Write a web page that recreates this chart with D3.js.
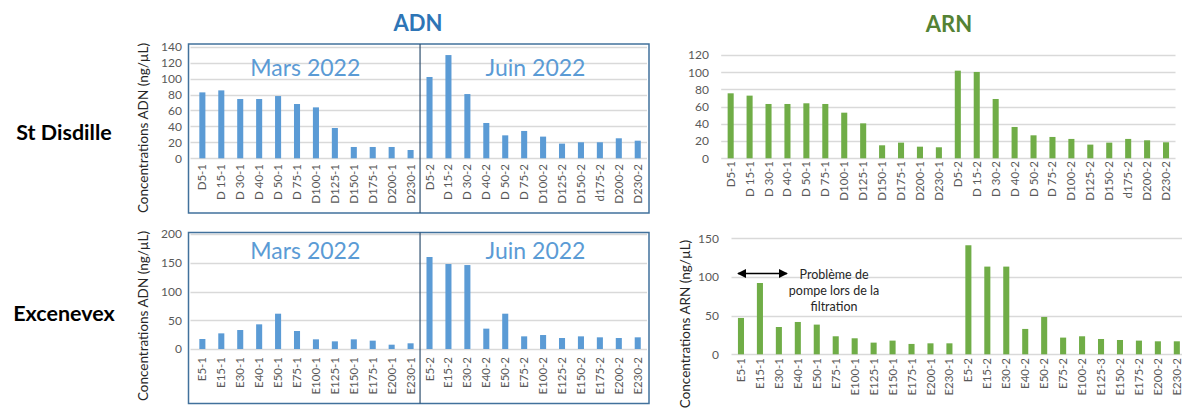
<!DOCTYPE html>
<html>
<head>
<meta charset="utf-8">
<script src="https://cdn.jsdelivr.net/npm/d3@7"></script>
<style>
  body { margin: 0; background: #fff; }
  svg { font-family: Lato, "Open Sans", sans-serif; }
</style>
</head>
<body>
<svg id="chart" width="1182" height="412"></svg>
<script>
// DATA
const labelsD = ["D5-1", "D 15-1", "D 30-1", "D 40-1", "D 50-1", "D 75-1", "D100-1", "D125-1", "D150-1", "D175-1", "D200-1", "D230-1",
                 "D5-2", "D 15-2", "D 30-2", "D 40-2", "D 50-2", "D 75-2", "D100-2", "D125-2", "D150-2", "d175-2", "D200-2", "D230-2"];
const labelsE = ["E5-1", "E15-1", "E30-1", "E40-1", "E50-1", "E75-1", "E100-1", "E125-1", "E150-1", "E175-1", "E200-1", "E230-1",
                 "E5-2", "E15-2", "E30-2", "E40-2", "E50-2", "E75-2", "E100-2", "E125-2", "E150-2", "E175-2", "E200-2", "E230-2"];
const labelsEArn = ["E5-1", "E15-1", "E30-1", "E40-1", "E50-1", "E75-1", "E100-1", "E125-1", "E150-1", "E175-1", "E200-1", "E230-1",
                    "E5-2", "E15-2", "E30-2", "E40-2", "E50-2", "E75-2", "E100-2", "E125-3", "E150-2", "E175-2", "E200-2", "E230-2"];

const adnStDisdille = [82.7, 85.2, 74.4, 74.4, 78.1, 68.1, 63.9, 38, 14.2, 14.2, 14.2, 10.4,
                       102, 129.5, 80.6, 44.3, 28.8, 34.3, 27.2, 18.4, 20.1, 20.1, 25.1, 22.1];
const arnStDisdille = [75.5, 72.8, 63.1, 63.1, 63.9, 63.1, 53, 40.6, 15.1, 18.2, 13.5, 12.8,
                       101.8, 100.3, 68.9, 36.4, 26.7, 24.8, 22.5, 15.9, 18.2, 22.5, 20.9, 18.6];
const adnExcenevex = [17.4, 27.2, 33, 42.9, 61.4, 31.3, 16.8, 13.3, 16.8, 14.5, 7.5, 9.9,
                      160, 147.8, 146, 35.4, 61.4, 22, 24.3, 19.1, 22, 20.3, 19.1, 20.3];
const arnExcenevex = [47, 92.2, 35.3, 41.8, 38.4, 23.3, 20.7, 15.1, 17.7, 13.4, 14.2, 14.2,
                      141, 113.4, 113.4, 32.8, 48.3, 21.6, 23.3, 19.8, 18.5, 17.7, 16.8, 16.8];

const sites = ["St Disdille", "Excenevex"];
const campaigns = ["Mars 2022", "Juin 2022"];
const noteLines = ["Problème de", "pompe lors de la", "filtration"];

// COLOURS
const blue = "#5b9bd5";
const green = "#70ad47";
const gridColor = "#d9d9d9";
const tickColor = "#595959";

const svg = d3.select("#chart");

// PANELS
const panels = [
  { labels: labelsD, values: adnStDisdille, color: blue, x: [192.9, 647.2], y: [158.3, 46.7], max: 140, step: 20,
    tickRight: 182, labelTop: 164, box: [188.5, 44, 649, 213], title: "Concentrations ADN (ng/µL)", titleX: 148, titleY: 128,
    campaignY: 76 },
  { labels: labelsD, values: arnStDisdille, color: green, x: [721.2, 1175.5], y: [158.3, 55], max: 120, step: 20,
    tickRight: 709, labelTop: 161 },
  { labels: labelsE, values: adnExcenevex, color: blue, x: [192.9, 647.2], y: [349, 234], max: 200, step: 50,
    tickRight: 182, labelTop: 357, box: [188.5, 232.5, 649, 403.5], title: "Concentrations ADN (ng/µL)", titleX: 148, titleY: 316,
    campaignY: 259 },
  { labels: labelsEArn, values: arnExcenevex, color: green, x: [731.5, 1186.3], y: [354.3, 238.3], max: 150, step: 50,
    tickRight: 719, labelTop: 358, title: "Concentrations ARN (ng/µL)", titleX: 690, titleY: 324 }
];

panels.forEach(p => {
  const g = svg.append("g");
  const x = d3.scaleBand().domain(p.labels).range(p.x).paddingInner(0.68).paddingOuter(0.34);
  const y = d3.scaleLinear().domain([0, p.max]).range(p.y);
  const ticks = d3.range(0, p.max + 1, p.step);

  // gridlines
  const gridLeft = p.box ? p.box[0] + 2 : p.x[0];
  const gridRight = p.box ? p.box[2] - 2 : p.x[1];
  g.selectAll("line.grid")
    .data(ticks)
    .enter()
    .append("line")
    .attr("class", "grid")
    .attr("x1", gridLeft)
    .attr("x2", gridRight)
    .attr("y1", d => Math.round(y(d)) + 0.5)
    .attr("y2", d => Math.round(y(d)) + 0.5)
    .attr("stroke", gridColor)
    .attr("stroke-width", 1.3);

  // y axis labels
  const yAxis = d3.axisLeft(y).tickValues(ticks).tickSize(0).tickPadding(0);
  const ya = g.append("g").attr("transform", `translate(${p.tickRight},0)`).call(yAxis);
  ya.select(".domain").remove();
  ya.selectAll("text").attr("fill", tickColor).attr("font-size", 12).attr("font-family", "Lato, sans-serif");

  // bars
  g.selectAll("rect.bar")
    .data(p.values)
    .enter()
    .append("rect")
    .attr("class", "bar")
    .attr("x", (d, i) => x(p.labels[i]))
    .attr("width", x.bandwidth())
    .attr("y", d => y(d))
    .attr("height", d => y(0) - y(d))
    .attr("fill", p.color);

  // x axis labels (rotated)
  const xAxis = d3.axisBottom(x).tickSize(0).tickPadding(0);
  const xa = g.append("g").attr("transform", `translate(0,${p.labelTop})`).call(xAxis);
  xa.select(".domain").remove();
  xa.selectAll("text")
    .attr("transform", "rotate(-90)")
    .attr("text-anchor", "end")
    .attr("x", 0)
    .attr("y", 0)
    .attr("dy", "0.35em")
    .attr("fill", tickColor)
    .attr("font-size", 11.5)
    .attr("font-family", "Lato, sans-serif");

  // frame + campaign divider
  if (p.box) {
    const [bx0, by0, bx1, by1] = p.box;
    g.append("rect")
      .attr("x", bx0).attr("y", by0)
      .attr("width", bx1 - bx0).attr("height", by1 - by0)
      .attr("fill", "none")
      .attr("stroke", "#41719c")
      .attr("stroke-width", 1.5);
    const mid = (x(p.labels[11]) + x(p.labels[12]) + x.bandwidth()) / 2;
    g.append("line")
      .attr("x1", mid).attr("x2", mid)
      .attr("y1", by0).attr("y2", by1)
      .attr("stroke", "#2f4f6f")
      .attr("stroke-width", 1.2);
    g.selectAll("text.campaign")
      .data(campaigns)
      .enter()
      .append("text")
      .attr("class", "campaign")
      .attr("x", (d, i) => i === 0 ? (bx0 + mid) / 2 + 1 : (mid + bx1) / 2 + 1)
      .attr("y", p.campaignY)
      .attr("text-anchor", "middle")
      .attr("font-size", 23)
      .attr("fill", blue)
      .text(d => d);
  }

  if (p.title) {
    g.append("text")
      .attr("transform", `translate(${p.titleX},${p.titleY}) rotate(-90)`)
      .attr("text-anchor", "middle")
      .attr("font-size", 13.5)
      .attr("fill", "#262626")
      .text(p.title);
  }
});

// column titles
svg.append("text").attr("x", 418).attr("y", 31).attr("text-anchor", "middle")
  .attr("font-size", 22).attr("font-weight", "bold").attr("fill", "#2e75b6").text("ADN");
svg.append("text").attr("x", 949).attr("y", 32).attr("text-anchor", "middle")
  .attr("font-size", 22).attr("font-weight", "bold").attr("fill", "#548235").text("ARN");

// row titles
svg.selectAll("text.site")
  .data(sites)
  .enter()
  .append("text")
  .attr("class", "site")
  .attr("x", 64)
  .attr("y", (d, i) => i === 0 ? 140 : 320.5)
  .attr("text-anchor", "middle")
  .attr("font-size", 21.5)
  .attr("font-weight", "bold")
  .attr("fill", "#000")
  .text(d => d);

// pump annotation (bottom-right panel)
const defs = svg.append("defs");
defs.append("marker")
  .attr("id", "arrow")
  .attr("viewBox", "0 0 10 10")
  .attr("refX", 9).attr("refY", 5)
  .attr("markerWidth", 9).attr("markerHeight", 9)
  .attr("markerUnits", "userSpaceOnUse")
  .attr("orient", "auto-start-reverse")
  .append("path")
  .attr("d", "M0,0 L10,5 L0,10 z")
  .attr("fill", "#000");
svg.append("line")
  .attr("x1", 738).attr("x2", 787)
  .attr("y1", 273.5).attr("y2", 273.5)
  .attr("stroke", "#000").attr("stroke-width", 1.3)
  .attr("marker-start", "url(#arrow)")
  .attr("marker-end", "url(#arrow)");
svg.selectAll("text.note")
  .data(noteLines)
  .enter()
  .append("text")
  .attr("class", "note")
  .attr("x", 834)
  .attr("y", (d, i) => 279 + i * 16)
  .attr("text-anchor", "middle")
  .attr("font-size", 12.5)
  .attr("fill", "#262626")
  .text(d => d);
</script>
</body>
</html>
